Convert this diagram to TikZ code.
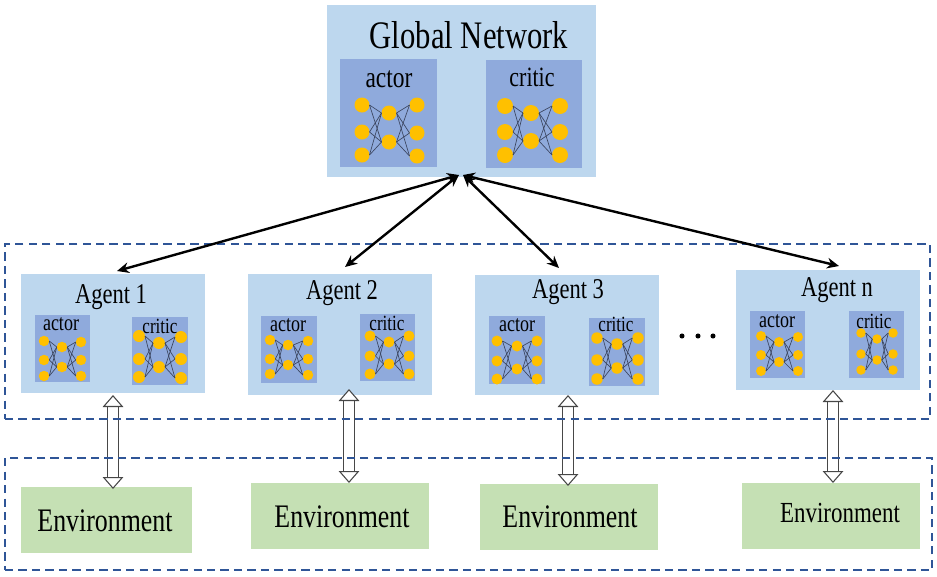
\documentclass[tikz,border=0pt]{standalone}
\usepackage{fontspec}
\setmainfont{Liberation Serif}
\usetikzlibrary{arrows.meta}
\definecolor{lightb}{HTML}{BDD7EE}
\definecolor{innerb}{HTML}{8FAADC}
\definecolor{dotc}{HTML}{FFC000}
\definecolor{envg}{HTML}{C5E0B4}
\definecolor{dashb}{HTML}{2F5597}
\definecolor{linec}{HTML}{3C4660}
\newcommand\tall[1]{\scalebox{1}[1.27]{#1}}
\tikzset{
  x=0.75pt,y=-0.75pt,
  boxn/.style={draw=none,inner sep=0pt,outer sep=0pt,rectangle},
  outerbox/.style={boxn,fill=lightb},
  innerbox/.style={boxn,fill=innerb},
  envbox/.style={boxn,fill=envg},
  framebox/.style={boxn,draw=dashb,line width=1.8pt,dash pattern=on 6.2pt off 3.9pt},
  neuron/.style={circle,fill=dotc,inner sep=0pt,outer sep=0pt,draw=none},
  synapse/.style={draw=linec,line width=0.5pt},
  bigarrow/.style={draw=black,line width=1.8pt,{Stealth[length=9pt,width=8pt]}-{Stealth[length=9pt,width=8pt]}},
  hollow/.style={draw=black!72,line width=0.8pt,double=white,double distance=7.2pt,
    {Triangle[open,fill=white,length=9pt,width=15.5pt,line width=0.8pt]}-{Triangle[open,fill=white,length=9pt,width=15.5pt,line width=0.8pt]}},
  lab/.style={inner sep=0pt,outer sep=0pt,text=black},
  ttitle/.style={lab,font=\fontsize{23}{24}\selectfont},
  tbigactor/.style={lab,font=\fontsize{17.6}{18}\selectfont},
  tbigcritic/.style={lab,font=\fontsize{16.5}{18}\selectfont},
  tagent/.style={lab,font=\fontsize{16.9}{18}\selectfont},
  tactor/.style={lab,font=\fontsize{13.5}{14}\selectfont},
  tcritic/.style={lab,font=\fontsize{12.8}{14}\selectfont},
  tenv/.style={lab,font=\fontsize{19.4}{20}\selectfont},
  tenvn/.style={lab,font=\fontsize{17.2}{18}\selectfont},
}
% style, name, x1, y1, x2, y2
\newcommand\boxat[6]{\node[#1,minimum width={(#5-#3)*0.75pt},minimum height={(#6-#4)*0.75pt}] (#2) at ({(#3+#5)/2},{(#4+#6)/2}) {};}
% prefix, diameter, x1, x2, x3, left ys, mid ys, right ys
\newcommand\netw[8]{%
  \foreach \yy [count=\ii] in {#6} \node[neuron,minimum size=#2*0.75pt] (#1l\ii) at (#3,\yy) {};
  \foreach \yy [count=\ii] in {#7} \node[neuron,minimum size=#2*0.75pt] (#1m\ii) at (#4,\yy) {};
  \foreach \yy [count=\ii] in {#8} \node[neuron,minimum size=#2*0.75pt] (#1r\ii) at (#5,\yy) {};
  \foreach \aa in {1,2,3} \foreach \bb in {1,2} {
    \draw[synapse] (#1l\aa.east) -- (#1m\bb.west);
    \draw[synapse] (#1m\bb.east) -- (#1r\aa.west);
  }%
}
\begin{document}
\begin{tikzpicture}
\useasboundingbox (0,0) rectangle (937,576);
% Global network
\boxat{outerbox}{global}{327}{5}{596}{177}
\boxat{innerbox}{gactor}{340}{59}{437}{167}
\boxat{innerbox}{gcritic}{486}{60}{582}{168}
\node[ttitle] (gtitle) at (469,35) {\tall{Global Network}};
\node[tbigactor] (gat) at (389,79) {\tall{actor}};
\node[tbigcritic] (gct) at (532,77) {\tall{critic}};
\netw{ga}{15}{362}{389}{417}{105,132,155}{113,142}{105,133,156}
\netw{gc}{16}{505}{531}{560}{106,132,155}{113,141}{106,132,155}
% Agent 1
\boxat{outerbox}{a1}{21}{274}{205}{393}
\boxat{innerbox}{a1actor}{35}{315}{90}{382}
\boxat{innerbox}{a1critic}{132}{317}{188}{385}
\node[tagent] (a1t) at (111,297) {\tall{Agent 1}};
\node[tactor] (a1at) at (61,324) {\tall{actor}};
\node[tcritic] (a1ct) at (160,326) {\tall{critic}};
\netw{aa}{10.5}{44}{62}{81}{341,360,376}{347,367}{342,360,376}
\netw{ac}{12}{139}{159}{181}{336,359,377}{343,367}{337,359,378}
% Agent 2
\boxat{outerbox}{a2}{248}{274}{432}{395}
\boxat{innerbox}{a2actor}{261}{316}{317}{383}
\boxat{innerbox}{a2critic}{360}{314}{415}{381}
\node[tagent] (a2t) at (342,293) {\tall{Agent 2}};
\node[tactor] (a2at) at (288,325) {\tall{actor}};
\node[tcritic] (a2ct) at (387,323) {\tall{critic}};
\netw{ba}{10.5}{270}{288}{308}{340,359,374}{345,365}{341,359,375}
\netw{bc}{11}{370}{389}{409}{336,356,374}{342,364}{336,356,374}
% Agent 3
\boxat{outerbox}{a3}{475}{275}{659}{395}
\boxat{innerbox}{a3actor}{489}{316}{545}{384}
\boxat{innerbox}{a3critic}{589}{318}{645}{386}
\node[tagent] (a3t) at (568,292) {\tall{Agent 3}};
\node[tactor] (a3at) at (517,325) {\tall{actor}};
\node[tcritic] (a3ct) at (616,324) {\tall{critic}};
\netw{ca}{11}{497}{517}{537}{341,361,379}{346,369}{341,361,379}
\netw{cc}{11.5}{597}{617}{638}{338,360,379}{344,368}{338,360,379}
% Agent n
\boxat{outerbox}{an}{736}{270}{920}{390}
\boxat{innerbox}{anactor}{750}{311}{805}{378}
\boxat{innerbox}{ancritic}{849}{311}{904}{378}
\node[tagent] (ant) at (837,290) {\tall{Agent n}};
\node[tactor] (anat) at (777,321) {\tall{actor}};
\node[tcritic] (anct) at (874,321) {\tall{critic}};
\netw{da}{10}{761}{779}{798}{336,355,371}{342,362}{337,355,371}
\netw{dc}{9.5}{861}{877}{893}{333,354,370}{339,360}{333,354,370}
% Ellipsis
\foreach \xx/\nn in {682/e1,698/e2,713/e3}
  \node[circle,fill=black,inner sep=0pt,minimum size=3.8pt] (dot\nn) at (\xx,336) {};
% Environments
\boxat{envbox}{env1}{21}{487}{192}{553}
\boxat{envbox}{env2}{251}{483}{429}{549}
\boxat{envbox}{env3}{480}{484}{658}{550}
\boxat{envbox}{envn}{742}{483}{920}{549}
\node[tenv] (env1t) at (105,521) {\tall{Environment}};
\node[tenv] (env2t) at (342,517) {\tall{Environment}};
\node[tenv] (env3t) at (570,517) {\tall{Environment}};
\node[tenvn] (envnt) at (840,513) {\tall{Environment}};
% Hollow double arrows
\coordinate (h1a) at (113,395); \coordinate (h1b) at (113,489);
\coordinate (h2a) at (349,389); \coordinate (h2b) at (349,483);
\coordinate (h3a) at (568,395); \coordinate (h3b) at (568,486);
\coordinate (h4a) at (833,390); \coordinate (h4b) at (833,483);
\draw[hollow] (h1a) -- (h1b);
\draw[hollow] (h2a) -- (h2b);
\draw[hollow] (h3a) -- (h3b);
\draw[hollow] (h4a) -- (h4b);
% Dashed frames
\boxat{framebox}{frameA}{5}{244}{930}{419}
\boxat{framebox}{frameB}{5}{458}{932}{570}
% Black arrows
\coordinate (hubL) at (459,175);
\coordinate (hubR) at (463,175);
\coordinate (p1) at (117,271);
\coordinate (p2) at (345,267);
\coordinate (p3) at (559,268);
\coordinate (p4) at (839,266);
\draw[bigarrow] (p1) -- (hubL);
\draw[bigarrow] (p2) -- (hubL);
\draw[bigarrow] (p3) -- (hubR);
\draw[bigarrow] (p4) -- (hubR);
\end{tikzpicture}
\end{document}
